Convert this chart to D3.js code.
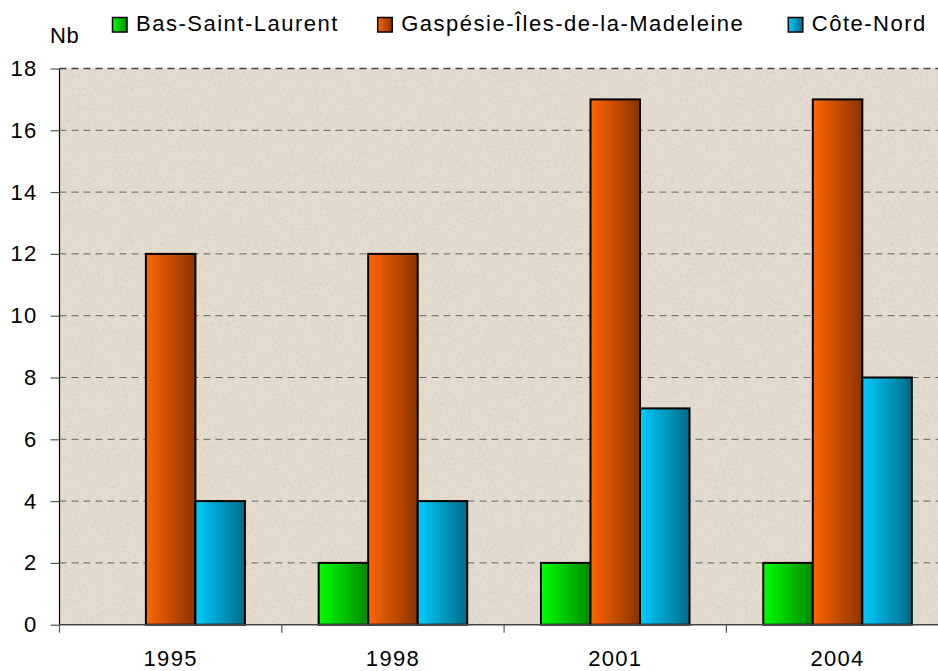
<!DOCTYPE html>
<html>
<head>
<meta charset="utf-8">
<script src="https://cdn.jsdelivr.net/npm/d3@7"></script>
<style>
html,body{margin:0;padding:0;background:#fff;}
svg{display:block;}
text{font-family:"Liberation Sans",Arial,sans-serif;fill:#000;}
</style>
</head>
<body>
<script>
const years = ["1995","1998","2001","2004"];
const seriesNames = ["Bas-Saint-Laurent","Gaspésie-Îles-de-la-Madeleine","Côte-Nord"];
const basSaintLaurent = [0,2,2,2];
const gaspesie = [12,12,17,17];
const coteNord = [4,4,7,8];
const yTicks = [0,2,4,6,8,10,12,14,16,18];
const yLabel = "Nb";

const seriesValues = [basSaintLaurent, gaspesie, coteNord];
const colorsLight = ["#00ff00","#ff6600","#00ccff"];
const colorsDark  = ["#008a00","#8a3300","#006b88"];

const W = 938, H = 671;
const pLeft = 59.5, pRight = 948.7, pTop = 68.5, pBottom = 624.7;

const svg = d3.select("body").append("svg").attr("width",W).attr("height",H);
const defs = svg.append("defs");

// background texture
const f = defs.append("filter").attr("id","tex").attr("x",0).attr("y",0).attr("width","100%").attr("height","100%");
f.append("feTurbulence").attr("type","fractalNoise").attr("baseFrequency","0.35").attr("numOctaves",2).attr("seed",3).attr("result","n");
f.append("feColorMatrix").attr("in","n").attr("type","matrix")
 .attr("values","0 0 0 0 0.55  0 0 0 0 0.5  0 0 0 0 0.45  0 0 0 -1.6 0.75").attr("result","m");
f.append("feComposite").attr("in","m").attr("in2","SourceGraphic").attr("operator","atop");

seriesNames.forEach((s,i)=>{
  const g = defs.append("linearGradient").attr("id","g"+i).attr("x1","0").attr("x2","1").attr("y1","0").attr("y2","0");
  g.append("stop").attr("offset","0").attr("stop-color",colorsLight[i]);
  g.append("stop").attr("offset","1").attr("stop-color",colorsDark[i]);
});

const x = d3.scaleBand().domain(years).range([pLeft,pRight]).padding(0);
const xs = d3.scaleBand().domain(d3.range(seriesNames.length)).range([0,x.bandwidth()]).paddingInner(0).paddingOuter(0.745);
const y = d3.scaleLinear().domain([0,18]).range([pBottom,pTop]);

// plot background
svg.append("rect").attr("x",pLeft).attr("y",pTop).attr("width",pRight-pLeft).attr("height",pBottom-pTop).attr("fill","#e3dbcd");
svg.append("rect").attr("x",pLeft).attr("y",pTop).attr("width",pRight-pLeft).attr("height",pBottom-pTop).attr("fill","#e3dbcd").attr("filter","url(#tex)").attr("opacity",0.55);

// gridlines
svg.append("g").selectAll("line").data(yTicks.filter(d=>d>0)).join("line")
  .attr("x1",pLeft).attr("x2",pRight).attr("y1",d=>y(d)).attr("y2",d=>y(d))
  .attr("stroke",d=>d===18?"#444":"#666").attr("stroke-width",d=>d===18?1.5:1).attr("stroke-dasharray","7,5");

// bars
const groups = svg.append("g").selectAll("g").data(years).join("g")
  .attr("transform",d=>`translate(${x(d)},0)`);
groups.selectAll("rect").data((yr,yi)=>seriesValues.map((vals,si)=>({si,v:vals[yi]})).filter(d=>d.v>0)).join("rect")
  .attr("x",d=>xs(d.si)).attr("width",xs.bandwidth())
  .attr("y",d=>y(d.v)).attr("height",d=>y(0)-y(d.v))
  .attr("fill",d=>`url(#g${d.si})`).attr("stroke","#000").attr("stroke-width",2);

// y axis
const yAxis = d3.axisLeft(y).tickValues(yTicks).tickSize(9).tickPadding(13).tickFormat(d3.format("d"));
const ya = svg.append("g").attr("transform",`translate(${pLeft},0)`).call(yAxis);
ya.select(".domain").attr("stroke","#000").attr("stroke-width",1.2).attr("d",`M0,${pBottom}V${pTop}`);
ya.selectAll(".tick line").attr("stroke","#555").attr("stroke-width",1.2);
ya.selectAll(".tick text").attr("font-size",22).attr("letter-spacing","1.3px").attr("font-family","Liberation Sans, Arial, sans-serif").attr("fill","#000");

// x axis
const xa = svg.append("g").attr("transform",`translate(0,${pBottom})`);
xa.append("line").attr("x1",pLeft).attr("x2",pRight).attr("y1",0).attr("y2",0).attr("stroke","#444").attr("stroke-width",1.6);
xa.selectAll("line.tk").data(years.concat(["end"])).join("line").attr("class","tk")
  .attr("x1",d=>d==="end"?pRight:x(d)).attr("x2",d=>d==="end"?pRight:x(d)).attr("y1",0).attr("y2",8)
  .attr("stroke","#555").attr("stroke-width",1.2);
xa.selectAll("text").data(years).join("text")
  .attr("x",d=>x(d)+x.bandwidth()/2).attr("y",41.5).attr("text-anchor","middle")
  .attr("font-size",22).attr("letter-spacing","1.3px").text(d=>d);

// y label
svg.append("text").attr("x",50).attr("y",42.5).attr("font-size",22).attr("letter-spacing","0.5px").text(yLabel);

// legend
const legX = [112.5, 377.7, 788.3];
const leg = svg.append("g").selectAll("g").data(seriesNames).join("g")
  .attr("transform",(d,i)=>`translate(${legX[i]},17.5)`);
leg.append("rect").attr("width",14.5).attr("height",14.5).attr("fill",(d,i)=>`url(#g${i})`).attr("stroke","#000").attr("stroke-width",1.5);
leg.append("text").attr("x",23.5).attr("y",13.5).attr("font-size",22).attr("letter-spacing","1.5px").text(d=>d);
</script>
</body>
</html>
